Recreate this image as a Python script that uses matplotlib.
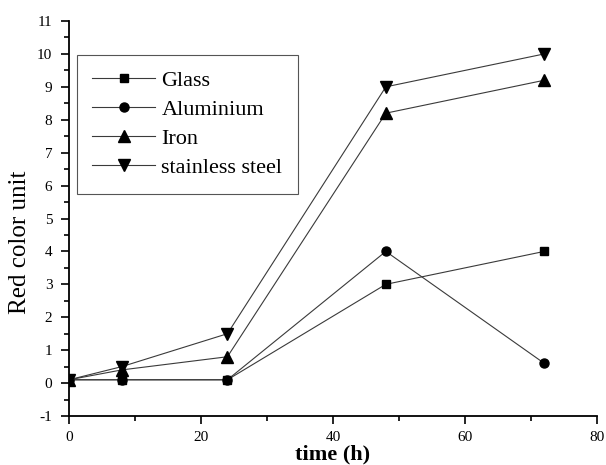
import matplotlib.pyplot as plt
from matplotlib.ticker import MultipleLocator

# data
time_h = [0, 8, 24, 48, 72]
glass = [0.1, 0.1, 0.1, 3.0, 4.0]
aluminium = [0.1, 0.1, 0.1, 4.0, 0.6]
iron = [0.1, 0.4, 0.8, 8.2, 9.2]
stainless = [0.1, 0.5, 1.5, 9.0, 10.0]

series = [
    ("Glass", glass, "s", 6),
    ("Aluminium", aluminium, "o", 6.5),
    ("Iron", iron, "^", 8),
    ("stainless steel", stainless, "v", 8),
]

plt.rcParams["font.family"] = ["Liberation Serif", "DejaVu Serif"]
plt.rcParams["axes.unicode_minus"] = False

fig = plt.figure(figsize=(6.06, 4.65), dpi=100)
ax = fig.add_axes([0.1139, 0.1054, 0.8713, 0.8494])

for name, vals, mk, ms in series:
    ax.plot(time_h, vals, color="#3a3a3a", linewidth=0.8, marker=mk,
            markersize=ms, markerfacecolor="black", markeredgecolor="black",
            label=name)

ax.set_xlim(0, 80)
ax.set_ylim(-1, 11)
ax.xaxis.set_major_locator(MultipleLocator(20))
ax.xaxis.set_minor_locator(MultipleLocator(10))
ax.yaxis.set_major_locator(MultipleLocator(1))
ax.yaxis.set_minor_locator(MultipleLocator(0.5))
ax.tick_params(which="major", direction="out", length=6, width=1.2, labelsize=11)
ax.tick_params(which="minor", direction="out", length=3.5, width=1.2)
ax.tick_params(axis="x", which="major", pad=5)
ax.tick_params(axis="y", which="major", pad=6)

for side in ("top", "right"):
    ax.spines[side].set_visible(False)
for side in ("left", "bottom"):
    ax.spines[side].set_linewidth(1.3)

ax.set_xlabel("time (h)", fontsize=16, fontweight="bold", labelpad=0)
ax.set_ylabel("Red color unit", fontsize=18)
ax.yaxis.set_label_coords(-0.072, 0.44)

leg = ax.legend(loc="upper left", bbox_to_anchor=(0.015, 0.914), borderaxespad=0,
                fontsize=16, handlelength=2.8, handletextpad=0.3,
                labelspacing=0.38, borderpad=0.7, fancybox=False,
                edgecolor="#555555", framealpha=1)
leg.get_frame().set_linewidth(0.8)

fig.savefig("out.png", dpi=100)
